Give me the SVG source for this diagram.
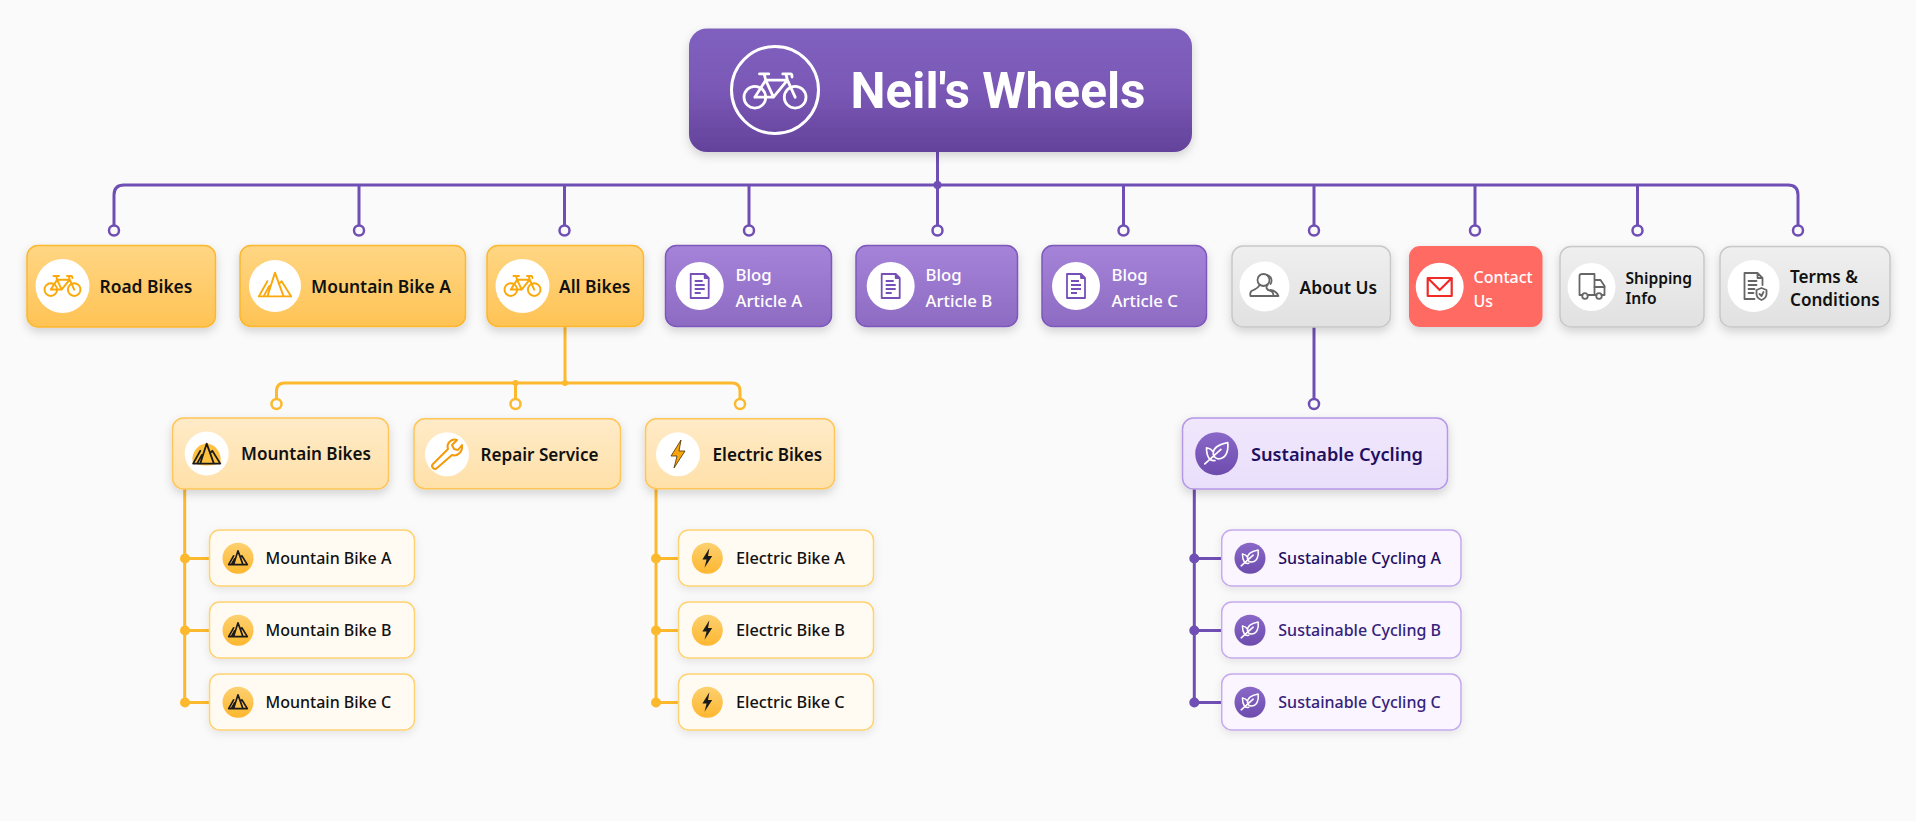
<svg xmlns="http://www.w3.org/2000/svg" xmlns:xlink="http://www.w3.org/1999/xlink" width="1916" height="821" viewBox="0 0 1916 821">
<defs>
<linearGradient id="gRoot" x1="0" y1="0" x2="0" y2="1"><stop offset="0" stop-color="#8060bf"/><stop offset=".5" stop-color="#7a58b6"/><stop offset="1" stop-color="#63429a"/></linearGradient>
<linearGradient id="gY" x1="0" y1="0" x2="0" y2="1"><stop offset="0" stop-color="#ffd684"/><stop offset="1" stop-color="#ffc354"/></linearGradient>
<linearGradient id="gP" x1="0" y1="0" x2="0" y2="1"><stop offset="0" stop-color="#a583d9"/><stop offset="1" stop-color="#8e6bc2"/></linearGradient>
<linearGradient id="gG" x1="0" y1="0" x2="0" y2="1"><stop offset="0" stop-color="#efefef"/><stop offset="1" stop-color="#e1e1e1"/></linearGradient>
<linearGradient id="gY3" x1="0" y1="0" x2="0" y2="1"><stop offset="0" stop-color="#ffebc8"/><stop offset="1" stop-color="#ffe0a8"/></linearGradient>
<linearGradient id="gP3" x1="0" y1="0" x2="0" y2="1"><stop offset="0" stop-color="#f0e7fc"/><stop offset="1" stop-color="#eadffb"/></linearGradient>
<linearGradient id="gYI" x1="0" y1="0" x2="0" y2="1"><stop offset="0" stop-color="#fdd070"/><stop offset="1" stop-color="#fdb72f"/></linearGradient>
<linearGradient id="gPI" x1="0" y1="0" x2="0" y2="1"><stop offset="0" stop-color="#8a68c8"/><stop offset="1" stop-color="#6d4cae"/></linearGradient>
<filter id="sh" x="-15%" y="-25%" width="130%" height="160%"><feDropShadow dx="0" dy="4" stdDeviation="5" flood-color="#000" flood-opacity=".16"/></filter>
<filter id="shS" x="-15%" y="-25%" width="130%" height="160%"><feDropShadow dx="0" dy="3" stdDeviation="4" flood-color="#000" flood-opacity=".09"/></filter>
<g id="bike" fill="none" stroke-linecap="round" stroke-linejoin="round"><circle cx="-13" cy="4" r="7"/><circle cx="13" cy="4" r="7"/><path d="M-13,4L-6,-7H8L13,4M-13,4H-1L-6,-7M-1,4L8,-7M7,-11L8,-7M5,-11H10Q11,-11 11,-9M-6,-7L-7,-11M-10,-11H-4"/></g>
<g id="mtn" fill="none" stroke-linecap="round" stroke-linejoin="round"><path d="M-17,12H17M-8,12L0,-13L9,12M-17,12L-8,-4M4,-1L7,-4L17,12M-12,12L-6,1"/></g>
<g id="doc" fill="none" stroke-linejoin="round"><path d="M-9,-12H5L9,-8V12H-9ZM5,-12V-8H9M-5,-5H3M-5,-1H5M-5,3H5M-5,7H1"/></g>
<g id="people" fill="none" stroke-linecap="round" stroke-linejoin="round"><circle cx="-1" cy="-5" r="6"/><path d="M3,-10A6,6 0 0 1 6,-1M-5,0Q-6,3 -13,6Q-15,8 -14,11H9Q9,7 6,6Q0,4 3,0M6,5Q12,6 14,11H9"/></g>
<g id="mail" fill="none" stroke-linejoin="round"><path d="M-12,-9H12V9H-12ZM-12,-9L0,3L12,-9"/></g>
<g id="truck" fill="none" stroke-linecap="round" stroke-linejoin="round"><path d="M-9,9H-12V-10Q-12,-12 -10,-12H3V9H-4M3,-6H9L13,0V9H10M3,9H5"/><circle cx="-6.500" cy="10" r="2.800"/><circle cx="7.500" cy="10" r="2.800"/><path d="M3,1H13"/></g>
<g id="docs" fill="none" stroke-linecap="round" stroke-linejoin="round"><path d="M1,13H-9V-13H4L9,-8V-1M4,-13V-8H9M-5,-5H3M-5,-1H3M-5,3H1M-5,7H0"/><path d="M8,2L13,4V8Q13,12 8,14Q3,12 3,8V4Z"/><path d="M6,8L8,10L10,6"/></g>
<g id="wrench" fill="none" stroke-linejoin="round"><path d="M-12,10L3,-5C1,-11 7,-16 12,-14L7,-9L9,-5L13,-4L17,-9C18,-3 13,3 7,1L-8,14Q-10,16 -12,14Q-14,12 -12,10Z" transform="translate(-2,0)"/></g>
<g id="bolt"><path d="M3,-14L-7,2H-1L-4,14L7,-3H1Z"/></g>
<g id="leaf" fill="none" stroke-linecap="round" stroke-linejoin="round"><path d="M-4,1C-5,-7 3,-11 13,-13C14,-3 11,6 2,6Q-2,6 -4,1ZM-14,12L5,-5M-2,8C-8,9 -12,4 -12,-7C-8,-6 -6,-5 -5,-3"/></g>
<path id="blob" d="M-14,9C-16,-2 -8,-9 -1,-10C8,-10 15,-2 14,9C8,13 -8,13 -14,9Z"/>
</defs>
<style>
text{font-family:"Noto Sans","Open Sans","Liberation Sans",sans-serif;font-weight:600;fill:#111}
.root{font-family:Roboto,"Liberation Sans",sans-serif;font-weight:700;font-size:49.600px;fill:#fff}
.wh{fill:#fff;font-weight:500;font-size:16.800px}
.wh2{fill:#fff;font-weight:500;font-size:16px}
.t2{font-size:17.400px}
.t2c{font-size:17.100px}
.t2s{font-size:15.600px}
.t3{font-size:17.100px}
.t3n{font-size:18.200px;fill:#1e1060}
.t4{font-size:16px;font-weight:500}
.t4e{font-size:16.300px;font-weight:500}
.navy{fill:#1e1060}
.navy2{fill:#35237a;font-size:16px;font-weight:500}
.y2{fill:url(#gY);stroke:#fcb72f;stroke-width:1.500}
.p2{fill:url(#gP);stroke:#7d58bc;stroke-width:1.500}
.g2{fill:url(#gG);stroke:#c8c8c8;stroke-width:1.500}
.y3{fill:url(#gY3);stroke:#ffc557;stroke-width:1.500}
.y4{fill:#fffaf2;stroke:#ffd272;stroke-width:1.500}
.p3{fill:url(#gP3);stroke:#b598e6;stroke-width:1.500}
.p4{fill:#faf5ff;stroke:#c5aaee;stroke-width:1.500}
.box{filter:url(#sh)}
.sbox{filter:url(#shS)}
.wc{fill:#fff}
.lp{fill:none;stroke:#6f4fb3;stroke-width:3;stroke-linejoin:round}
.ly{fill:none;stroke:#fdb92e;stroke-width:3;stroke-linejoin:round}
.op{fill:#fafafa;stroke:#6f4fb3;stroke-width:2.500}
.oy{fill:#fafafa;stroke:#fdb92e;stroke-width:2.500}
.dp{fill:#6f4fb3}
.dy{fill:#fdb92e}
</style>
<rect width="1916" height="821" fill="#fafafa"/>
<g id="connectors">
<path class="lp" d="M937.500,152V185M114,226V195Q114,185 124,185H1788Q1798,185 1798,195V226M359,185V226M564.500,185V226M749,185V226M937.500,185V226M1123.500,185V226M1314,185V226M1475,185V226M1637.500,185V226"/>
<circle class="dp" cx="937.500" cy="185" r="4"/>
<g class="op"><circle cx="114" cy="230.500" r="5"/><circle cx="359" cy="230.500" r="5"/><circle cx="564.500" cy="230.500" r="5"/><circle cx="749" cy="230.500" r="5"/><circle cx="937.500" cy="230.500" r="5"/><circle cx="1123.500" cy="230.500" r="5"/><circle cx="1314" cy="230.500" r="5"/><circle cx="1475" cy="230.500" r="5"/><circle cx="1637.500" cy="230.500" r="5"/><circle cx="1798" cy="230.500" r="5"/></g>
<path class="ly" d="M565,327V383M276.500,399V391Q276.500,383 284.500,383H732Q740,383 740,391V399M515.500,383V399"/>
<circle class="dy" cx="565" cy="383" r="3"/><circle class="dy" cx="515.500" cy="383" r="3"/>
<g class="oy"><circle cx="276.500" cy="404" r="5"/><circle cx="515.500" cy="404" r="5"/><circle cx="740" cy="404" r="5"/></g>
<path class="ly" d="M184.700,489V702.500H209M185,558.500H209M185,630.500H209"/>
<g class="dy"><circle cx="185" cy="558.500" r="5"/><circle cx="185" cy="630.500" r="5"/><circle cx="185" cy="702.500" r="5"/></g>
<path class="ly" d="M656,489V702.500H678M656,558.500H678M656,630.500H678"/>
<g class="dy"><circle cx="656" cy="558.500" r="5"/><circle cx="656" cy="630.500" r="5"/><circle cx="656" cy="702.500" r="5"/></g>
<path class="lp" d="M1314,327V399M1194.300,489V702.500H1221M1194.300,558.500H1221M1194.300,630.500H1221"/>
<circle class="op" cx="1314" cy="404" r="5"/>
<g class="dp"><circle cx="1194.300" cy="558.500" r="5"/><circle cx="1194.300" cy="630.500" r="5"/><circle cx="1194.300" cy="702.500" r="5"/></g>
</g>
<g id="root"><rect class="box" x="689" y="28.500" width="503" height="123.500" rx="18" fill="url(#gRoot)"/><circle cx="775" cy="90" r="43.500" fill="none" stroke="#fff" stroke-width="3"/><use href="#bike" transform="translate(775,91) scale(1.550)" stroke="#fff" stroke-width="1.800"/><text class="root" x="850.500" y="107.500">Neil's Wheels</text></g>

<g id="road-bikes"><rect class="box y2" x="27" y="245.500" width="188.500" height="81.500" rx="11"/><circle class="wc" cx="62.500" cy="286" r="27"/><use href="#bike" transform="translate(62.500,286) scale(.900)" stroke="#fba90a" stroke-width="2.200"/><text class="t2" x="99.500" y="292.500">Road Bikes</text></g>
<g id="mountain-bike-a-top"><rect class="box y2" x="240" y="245.500" width="225.500" height="81" rx="11"/><circle class="wc" cx="275" cy="286" r="26"/><use href="#mtn" transform="translate(275,285) scale(.950)" stroke="#fba90a" stroke-width="2"/><text class="t2" x="311" y="292.500">Mountain Bike A</text></g>
<g id="all-bikes"><rect class="box y2" x="487" y="245.500" width="156.500" height="81" rx="11"/><circle class="wc" cx="522.500" cy="286" r="27"/><use href="#bike" transform="translate(522.500,286) scale(.900)" stroke="#fba90a" stroke-width="2.200"/><text class="t2" x="559" y="292.500">All Bikes</text></g>
<g id="blog-a"><rect class="box p2" x="665.500" y="245.500" width="166" height="81" rx="11"/><circle class="wc" cx="699.700" cy="286" r="24"/><use href="#doc" transform="translate(699.700,286)" stroke="#7650b8" stroke-width="1.800"/><text class="wh" x="735.500" y="281">Blog</text><text class="wh" x="735.500" y="307">Article A</text></g>
<g id="blog-b"><rect class="box p2" x="856" y="245.500" width="161.500" height="81" rx="11"/><circle class="wc" cx="890.700" cy="286" r="24"/><use href="#doc" transform="translate(890.700,286)" stroke="#7650b8" stroke-width="1.800"/><text class="wh" x="925.500" y="281">Blog</text><text class="wh" x="925.500" y="307">Article B</text></g>
<g id="blog-c"><rect class="box p2" x="1042" y="245.500" width="164.500" height="81" rx="11"/><circle class="wc" cx="1076" cy="286" r="24"/><use href="#doc" transform="translate(1076,286)" stroke="#7650b8" stroke-width="1.800"/><text class="wh" x="1111.500" y="281">Blog</text><text class="wh" x="1111.500" y="307">Article C</text></g>
<g id="about-us"><rect class="box g2" x="1232" y="246" width="158.500" height="81" rx="11"/><circle class="wc" cx="1264.500" cy="286.500" r="25"/><use href="#people" transform="translate(1264.500,285)" stroke="#666" stroke-width="1.800"/><text class="t2" x="1299.500" y="293.500">About Us</text></g>
<g id="contact-us"><rect class="box" x="1409" y="246" width="133.500" height="81" rx="11" fill="#ff6a64"/><circle class="wc" cx="1439.700" cy="286.700" r="24"/><use href="#mail" transform="translate(1439.700,287)" stroke="#f02b26" stroke-width="2.200"/><text class="wh2" x="1473.500" y="283">Contact</text><text class="wh2" x="1473.500" y="307">Us</text></g>
<g id="shipping-info"><rect class="box g2" x="1560" y="246.500" width="144" height="80.500" rx="11"/><circle class="wc" cx="1591.500" cy="287" r="24"/><use href="#truck" transform="translate(1591.500,286)" stroke="#666" stroke-width="1.800"/><text class="t2s" x="1625.500" y="284">Shipping</text><text class="t2s" x="1625.500" y="304">Info</text></g>
<g id="terms"><rect class="box g2" x="1720" y="246.500" width="170" height="80.500" rx="11"/><circle class="wc" cx="1753.500" cy="286" r="26"/><use href="#docs" transform="translate(1753.500,286)" stroke="#666" stroke-width="1.800"/><text class="t2c" x="1790" y="283">Terms &amp;</text><text class="t2c" x="1790" y="306">Conditions</text></g>

<g id="mountain-bikes"><rect class="box y3" x="172.500" y="418" width="216" height="71" rx="11"/><circle class="wc" cx="206.700" cy="453.500" r="22"/><use href="#blob" transform="translate(206.700,453.500)" fill="#fdc040"/><use href="#mtn" transform="translate(206.700,454) scale(.800)" stroke="#1a1a1a" stroke-width="2.200"/><text class="t3" x="241" y="460">Mountain Bikes</text></g>
<g id="repair-service"><rect class="box y3" x="414" y="418.700" width="206.500" height="70" rx="11"/><circle class="wc" cx="447" cy="454.300" r="22"/><use href="#wrench" transform="translate(447,454)" stroke="#f39a0a" stroke-width="2"/><text class="t3" x="480.500" y="461">Repair Service</text></g>
<g id="electric-bikes"><rect class="box y3" x="645.500" y="418.700" width="189" height="70" rx="11"/><circle class="wc" cx="678" cy="454.300" r="22"/><use href="#bolt" transform="translate(678,454)" fill="#f9a30e" stroke="#4a3000" stroke-width=".8"/><text class="t3" x="712.500" y="461">Electric Bikes</text></g>
<g id="sustainable-cycling"><rect class="box p3" x="1182.500" y="418" width="265" height="71" rx="11"/><circle cx="1216.700" cy="453.700" r="21.500" fill="url(#gPI)"/><use href="#leaf" transform="translate(1216.700,453.700) scale(.850)" stroke="#fff" stroke-width="2"/><text class="t3n" x="1251" y="460.700">Sustainable Cycling</text></g>

<g id="mountain-bike-a"><rect class="sbox y4" x="209.500" y="530" width="205" height="56" rx="10"/><circle cx="238" cy="558.300" r="15.500" fill="url(#gYI)"/><use href="#mtn" transform="translate(238,558) scale(.550)" stroke="#1a1a1a" stroke-width="3"/><text class="t4" x="265.500" y="564">Mountain Bike A</text></g>
<g id="mountain-bike-b"><rect class="sbox y4" x="209.500" y="602" width="205" height="56" rx="10"/><circle cx="238" cy="630.300" r="15.500" fill="url(#gYI)"/><use href="#mtn" transform="translate(238,630) scale(.550)" stroke="#1a1a1a" stroke-width="3"/><text class="t4" x="265.500" y="636">Mountain Bike B</text></g>
<g id="mountain-bike-c"><rect class="sbox y4" x="209.500" y="674" width="205" height="56" rx="10"/><circle cx="238" cy="702.300" r="15.500" fill="url(#gYI)"/><use href="#mtn" transform="translate(238,702) scale(.550)" stroke="#1a1a1a" stroke-width="3"/><text class="t4" x="265.500" y="708">Mountain Bike C</text></g>
<g id="electric-bike-a"><rect class="sbox y4" x="678.500" y="530" width="195" height="56" rx="10"/><circle cx="707.300" cy="558.300" r="15.500" fill="url(#gYI)"/><use href="#bolt" transform="translate(707.300,558) scale(.700)" fill="#1a1a1a"/><text class="t4e" x="736" y="564">Electric Bike A</text></g>
<g id="electric-bike-b"><rect class="sbox y4" x="678.500" y="602" width="195" height="56" rx="10"/><circle cx="707.300" cy="630.300" r="15.500" fill="url(#gYI)"/><use href="#bolt" transform="translate(707.300,630) scale(.700)" fill="#1a1a1a"/><text class="t4e" x="736" y="636">Electric Bike B</text></g>
<g id="electric-bike-c"><rect class="sbox y4" x="678.500" y="674" width="195" height="56" rx="10"/><circle cx="707.300" cy="702.300" r="15.500" fill="url(#gYI)"/><use href="#bolt" transform="translate(707.300,702) scale(.700)" fill="#1a1a1a"/><text class="t4e" x="736" y="708">Electric Bike C</text></g>
<g id="sustainable-a"><rect class="sbox p4" x="1221.700" y="530" width="239.300" height="56" rx="10"/><circle cx="1250" cy="558.300" r="15.500" fill="url(#gPI)"/><use href="#leaf" transform="translate(1250,558.300) scale(.630)" stroke="#fff" stroke-width="2.400"/><text class="t4 navy" x="1278.300" y="564">Sustainable Cycling A</text></g>
<g id="sustainable-b"><rect class="sbox p4" x="1221.700" y="602" width="239.300" height="56" rx="10"/><circle cx="1250" cy="630.300" r="15.500" fill="url(#gPI)"/><use href="#leaf" transform="translate(1250,630.300) scale(.630)" stroke="#fff" stroke-width="2.400"/><text class="navy2" x="1278.300" y="636">Sustainable Cycling B</text></g>
<g id="sustainable-c"><rect class="sbox p4" x="1221.700" y="674" width="239.300" height="56" rx="10"/><circle cx="1250" cy="702.300" r="15.500" fill="url(#gPI)"/><use href="#leaf" transform="translate(1250,702.300) scale(.630)" stroke="#fff" stroke-width="2.400"/><text class="navy2" x="1278.300" y="708">Sustainable Cycling C</text></g>
</svg>
